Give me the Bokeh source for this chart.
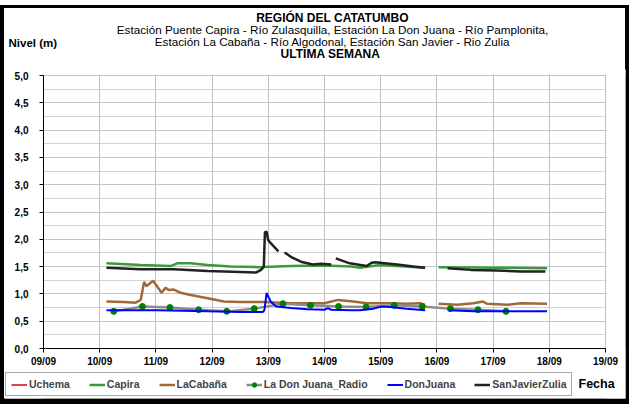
from bokeh.plotting import figure
from bokeh.models import (FixedTicker, Label, Legend, LegendItem, Range1d, Grid,
                          BoxAnnotation)
from bokeh.embed import file_html
from bokeh.resources import INLINE

nan = float("nan")

# Days counted from 09/09 00:00
x_ticks = list(range(11))
x_tick_labels = ["09/09", "10/09", "11/09", "12/09", "13/09", "14/09",
                 "15/09", "16/09", "17/09", "18/09", "19/09"]
y_ticks = [0.0, 0.5, 1.0, 1.5, 2.0, 2.5, 3.0, 3.5, 4.0, 4.5, 5.0]
y_tick_labels = ["0,0", "0,5", "1,0", "1,5", "2,0", "2,5", "3,0", "3,5", "4,0", "4,5", "5,0"]
y_minor = [0.25, 0.75, 1.25, 1.75, 2.25, 2.75, 3.25, 3.75, 4.25, 4.75]

# Uchema has no readings in the week shown
uchema_x = [nan]
uchema_y = [nan]

capira_x = [1.12, 1.73, 2.26, 2.38, 2.62, 2.92, 3.33, 3.81, 4.40, 5.00, 5.48, 5.63, 5.99, 6.79,
            nan, 7.03, 8.07, 8.96]
capira_y = [1.56, 1.53, 1.51, 1.56, 1.56, 1.53, 1.50, 1.49, 1.51, 1.52, 1.50, 1.48, 1.53, 1.48,
            nan, 1.49, 1.48, 1.47]

cabana_x = [1.12, 1.43, 1.64, 1.73, 1.79, 1.83, 1.88, 1.95, 2.02, 2.10, 2.17, 2.23, 2.32, 2.44,
            2.62, 2.92, 3.21, 3.51, 3.93, 4.40, 5.00, 5.24, 5.51, 5.75, 6.17, 6.46, 6.70, 6.79,
            nan, 7.03, 7.36, 7.65, 7.82, 7.89, 8.25, 8.49, 8.96]
cabana_y = [0.86, 0.85, 0.84, 0.89, 1.22, 1.14, 1.18, 1.24, 1.14, 1.02, 1.11, 1.07, 1.08, 1.02,
            0.98, 0.92, 0.86, 0.85, 0.85, 0.83, 0.83, 0.89, 0.86, 0.83, 0.83, 0.82, 0.83, 0.80,
            nan, 0.82, 0.80, 0.83, 0.86, 0.82, 0.80, 0.83, 0.82]

radio_x = [1.25, 1.76, 2.25, 2.76, 3.26, 3.75, 4.26, 4.75, 5.25, 5.74, 6.24, 6.74, 7.24, 7.73, 8.23]
radio_y = [0.68, 0.77, 0.75, 0.71, 0.68, 0.73, 0.82, 0.79, 0.77, 0.76, 0.79, 0.77, 0.73, 0.71, 0.68]

donjuana_x = [1.12, 2.02, 2.92, 3.51, 3.90, 3.93, 3.97, 4.01, 4.05, 4.14, 4.40, 4.70, 5.00, 5.06,
              5.12, 5.48, 5.63, 5.87, 6.02, 6.17, 6.46, 6.79, nan, 7.21, 7.65, 8.25, 8.96]
donjuana_y = [0.70, 0.70, 0.68, 0.67, 0.67, 0.70, 1.02, 0.93, 0.85, 0.77, 0.74, 0.72, 0.71, 0.74,
              0.71, 0.70, 0.70, 0.73, 0.77, 0.76, 0.73, 0.70, nan, 0.70, 0.68, 0.68, 0.68]

sanjavier_x = [1.12, 1.73, 2.32, 2.92, 3.51, 3.78, 3.87, 3.92, 3.94, 3.97, 4.00, 4.08, 4.18,
               nan, 4.29, 4.40, 4.58, 4.79, 4.94, 5.12,
               nan, 5.20, 5.45, 5.75, 5.84, 5.90, 6.29, 6.58, 6.79,
               nan, 7.19, 7.60, 8.07, 8.49, 8.93]
sanjavier_y = [1.48, 1.45, 1.45, 1.42, 1.40, 1.39, 1.44, 1.50, 2.13, 2.14, 1.98, 1.89, 1.78,
               nan, 1.76, 1.68, 1.59, 1.54, 1.55, 1.54,
               nan, 1.65, 1.56, 1.51, 1.57, 1.58, 1.54, 1.50, 1.48,
               nan, 1.47, 1.44, 1.43, 1.41, 1.41]

FONT = "Liberation Sans"

# Layout (pixels): the data area spans x 43..605 and y 75..348; the frame is widened
# to x 4..625 / y 69..398 so axis labels, the legend and "Fecha" sit inside it.
PX_DAY = (605 - 43) / 10.0
PX_UNIT = (348 - 75) / 5.0
x_lo = x_ticks[0] - (43 - 4) / PX_DAY
x_hi = x_ticks[-1] + (625 - 605) / PX_DAY
y_lo = y_ticks[0] - (398 - 348) / PX_UNIT
y_hi = y_ticks[-1] + (75 - 69) / PX_UNIT

p = figure(width=629, height=404, output_backend="svg", toolbar_location=None, title=None,
           x_range=Range1d(x_lo, x_hi), y_range=Range1d(y_lo, y_hi),
           min_border_left=4, min_border_right=4, min_border_top=69, min_border_bottom=6)
p.background_fill_color = "white"
p.border_fill_alpha = 0
p.styles = {"background-color": "white",
            "box-shadow": ("inset 0 5px 0 0 white, inset 0 8px 0 0 black, "
                           "inset 4px 0 0 0 black, inset -4px 0 0 0 black, "
                           "inset 0 -6px 0 0 black")}
p.outline_line_color = None

# grids, limited to the data area with white masks
p.xgrid.visible = False
p.ygrid.visible = False


def mask(**kw):
    p.add_layout(BoxAnnotation(fill_color="white", fill_alpha=1, line_color=None,
                               level="underlay", **kw), "center")


p.add_layout(Grid(dimension=1, ticker=FixedTicker(ticks=y_ticks, minor_ticks=y_minor),
                  grid_line_color="#c4c4c4", minor_grid_line_color="#d4d4d4"), "center")
mask(right=x_ticks[0])
mask(left=x_ticks[-1] + 1 / PX_DAY)
p.add_layout(Grid(dimension=0, ticker=FixedTicker(ticks=x_ticks),
                  grid_line_color="#c0c0c0"), "center")
mask(bottom=y_ticks[-1] + 1 / PX_UNIT)
mask(top=y_ticks[0])

# axes drawn at the data origin
p.xaxis.ticker = FixedTicker(ticks=x_ticks)
p.xaxis.major_label_overrides = {t: l for t, l in zip(x_ticks, x_tick_labels)}
p.yaxis.ticker = FixedTicker(ticks=y_ticks)
p.yaxis.major_label_overrides = {t: l for t, l in zip(y_ticks, y_tick_labels)}
p.xaxis.fixed_location = y_ticks[0]
p.yaxis.fixed_location = x_ticks[0]
p.xaxis.bounds = (x_ticks[0], x_ticks[-1])
p.yaxis.bounds = (y_ticks[0], y_ticks[-1])
for ax in (p.xaxis, p.yaxis):
    ax.axis_line_color = "black"
    ax.major_tick_line_color = "black"
    ax.major_tick_in = 0
    ax.major_tick_out = 4
    ax.minor_tick_line_color = None
    ax.major_label_text_font = FONT
    ax.major_label_text_font_style = "bold"
    ax.major_label_text_font_size = "10px"
    ax.major_label_text_color = "black"
p.xaxis.major_label_standoff = 3
p.yaxis.major_label_standoff = 11

r_uch = p.line(uchema_x, uchema_y, line_color="#e00000", line_width=1.5)
r_cap = p.line(capira_x, capira_y, line_color="#3a9a3a", line_width=2.5)
r_cab = p.line(cabana_x, cabana_y, line_color="#a0693a", line_width=2.5)
r_rad = p.line(radio_x, radio_y, line_color="#8c8c8c", line_width=2.5)
r_radp = p.scatter(radio_x, radio_y, size=6, fill_color="#008000", line_color="#008000")
r_don = p.line(donjuana_x, donjuana_y, line_color="#0000ff", line_width=2)
r_san = p.line(sanjavier_x, sanjavier_y, line_color="#222222", line_width=2.5)

legend = Legend(items=[
    LegendItem(label="Uchema", renderers=[r_uch]),
    LegendItem(label="Capira", renderers=[r_cap]),
    LegendItem(label="LaCabaña", renderers=[r_cab]),
    LegendItem(label="La Don Juana_Radio", renderers=[r_rad, r_radp]),
    LegendItem(label="DonJuana", renderers=[r_don]),
    LegendItem(label="SanJavierZulia", renderers=[r_san]),
], orientation="horizontal", location=(1, 2))
legend.label_text_font = FONT
legend.label_text_font_style = "bold"
legend.label_text_font_size = "10.5px"
legend.label_height = 11
legend.glyph_height = 11
legend.glyph_width = 16
legend.label_standoff = 2
legend.spacing = 19
legend.padding = 5
legend.margin = 0
legend.border_line_color = "#555555"
legend.border_line_width = 1
legend.background_fill_alpha = 1
p.add_layout(legend, "center")

p.add_layout(Label(x=574, y=15, x_units="screen", y_units="screen", text="Fecha",
                   text_font=FONT, text_font_size="12.5px", text_font_style="bold",
                   text_align="left", text_baseline="middle", text_color="black"))


def lab(text, x, y, bold=False, align="center", size="11.5px"):
    p.add_layout(Label(x=x, y=y, x_units="screen", y_units="screen", text=text,
                       text_font=FONT, text_font_size=size,
                       text_font_style="bold" if bold else "normal",
                       text_align=align, text_baseline="middle", text_color="black"), "above")


# header lines, stacked in the top panel (first one nearest the frame)
lab("ULTIMA SEMANA", 326, 16, bold=True, size="12px")
lab("Estación La Cabaña - Río Algodonal, Estación San Javier - Rio Zulia", 328, 14, size="11.7px")
lab("Estación Puente Capira - Río Zulasquilla, Estación La Don Juana - Río Pamplonita,", 328, 13, size="11.7px")
lab("REGIÓN DEL CATATUMBO", 328, 12, bold=True, size="12px")
lab("Nivel (m)", 4, -27, bold=True, align="left", size="11.5px")

open("out.html", "w").write(file_html(p, INLINE))
